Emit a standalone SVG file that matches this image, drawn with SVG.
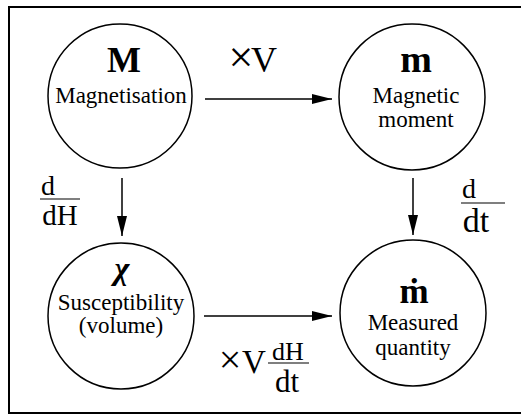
<svg xmlns="http://www.w3.org/2000/svg" width="521" height="419" viewBox="0 0 521 419">
<defs>
<style>
.t{font-family:"Liberation Serif","Times New Roman",serif;fill:#000;text-anchor:middle}
.b{font-weight:bold}
.node{fill:#fff;stroke:#000;stroke-width:1.5}
.conn{stroke:#000;stroke-width:1.5;fill:none}
.bar{stroke:#000;stroke-width:1.2}
</style>
<marker id="ah" markerWidth="20" markerHeight="10" refX="20" refY="5" orient="auto" markerUnits="userSpaceOnUse">
<path d="M0,0 L20,5 L0,10 Z" fill="#000"/>
</marker>
</defs>
<rect width="521" height="419" fill="#fff"/>
<path d="M521,7 H9 V413 H521" fill="none" stroke="#000" stroke-width="2"/>
<g id="connectors">
<line class="conn" x1="205" y1="99" x2="332" y2="99" marker-end="url(#ah)"/>
<line class="conn" x1="204" y1="316" x2="332" y2="316" marker-end="url(#ah)"/>
<line class="conn" x1="122" y1="178" x2="122" y2="236" marker-end="url(#ah)"/>
<line class="conn" x1="413" y1="178" x2="413" y2="235" marker-end="url(#ah)"/>
</g>
<g id="label-xV">
<text class="t" x="241" y="72" font-size="44" font-weight="lighter">×</text>
<text class="t" x="264" y="72" font-size="36">V</text>
</g>
<g id="label-ddH">
<text class="t" x="48" y="195" font-size="28">d</text>
<line class="bar" x1="40" y1="199" x2="80" y2="199"/>
<text class="t" x="60" y="225" font-size="29">dH</text>
</g>
<g id="label-ddt">
<text class="t" x="469" y="198" font-size="28">d</text>
<line class="bar" x1="461" y1="203" x2="505" y2="203"/>
<text class="t" x="476" y="232" font-size="34">dt</text>
</g>
<g id="label-xVdHdt">
<text class="t" x="230" y="373" font-size="40" font-weight="lighter">×</text>
<text class="t" x="254" y="373" font-size="33">V</text>
<text class="t" x="288" y="360" font-size="26">dH</text>
<line class="bar" x1="268" y1="363" x2="309" y2="363"/>
<text class="t" x="287" y="392" font-size="31">dt</text>
</g>
<g id="node-M">
<circle class="node" cx="120" cy="96" r="72"/>
<text class="t b" x="124" y="72" font-size="36">M</text>
<text class="t" x="121" y="103" font-size="23">Magnetisation</text>
</g>
<g id="node-m">
<circle class="node" cx="412" cy="97" r="73"/>
<text class="t b" x="416" y="72" font-size="38">m</text>
<text class="t" x="416" y="103" font-size="23">Magnetic</text>
<text class="t" x="416" y="127" font-size="23">moment</text>
</g>
<g id="node-chi">
<circle class="node" cx="121" cy="316" r="73"/>
<text class="t b" x="122" y="279" font-size="32" font-style="italic">χ</text>
<text class="t" x="121" y="310" font-size="23">Susceptibility</text>
<text class="t" x="121" y="333" font-size="23">(volume)</text>
</g>
<g id="node-mdot">
<circle class="node" cx="413" cy="313" r="73"/>
<text class="t b" x="414" y="303" font-size="35">ṁ</text>
<text class="t" x="413" y="330" font-size="23">Measured</text>
<text class="t" x="413" y="355" font-size="23">quantity</text>
</g>
</svg>
